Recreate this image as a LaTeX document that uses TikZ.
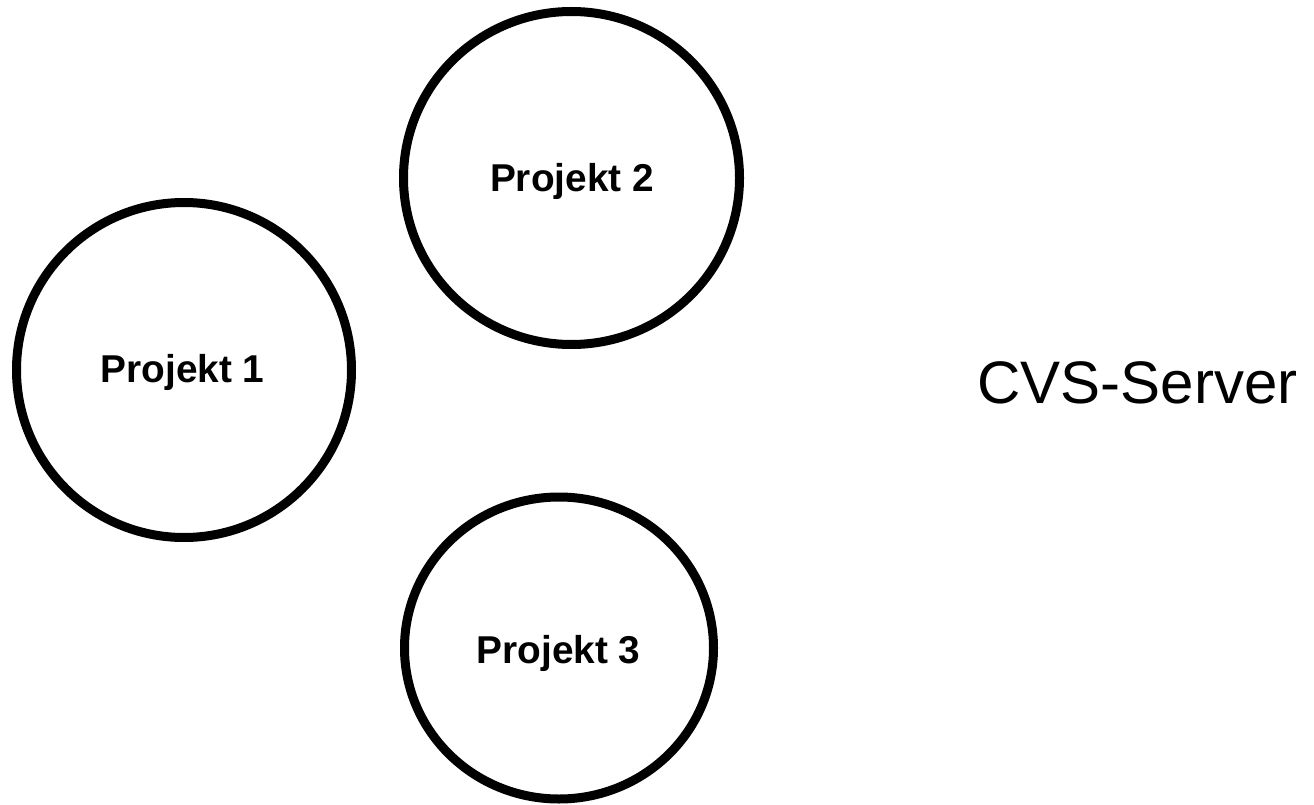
\documentclass[tikz,border=0pt]{standalone}
\usepackage{fontspec}
\setmainfont{Liberation Sans}
\usetikzlibrary{shapes.geometric}
\tikzset{
  projcircle/.style={draw=black, line width=9pt, ellipse, inner sep=0pt, fill=none},
  projlabel/.style={anchor=base, inner sep=0pt, font=\fontsize{38.8}{46}\selectfont\bfseries},
  serverlabel/.style={anchor=base, inner sep=0pt, font=\fontsize{60}{72}\selectfont}
}
\begin{document}
\begin{tikzpicture}[x=1pt,y=-1pt]
\useasboundingbox[fill=white] (0,0) rectangle (1314,805);
\node[projcircle, minimum width=335pt, minimum height=335pt] (c1) at (184,370) {};
\node[projcircle, minimum width=336pt, minimum height=333pt] (c2) at (571.5,178) {};
\node[projcircle, minimum width=309pt, minimum height=302pt] (c3) at (559,648) {};
\node[projlabel] (p1) at (182.5,382) {Projekt 1};
\node[projlabel] (p2) at (572,192) {Projekt 2};
\node[projlabel] (p3) at (558.5,663) {Projekt 3};
\node[serverlabel] (cvs) at (1137.5,403) {CVS-Server};
\end{tikzpicture}
\end{document}
